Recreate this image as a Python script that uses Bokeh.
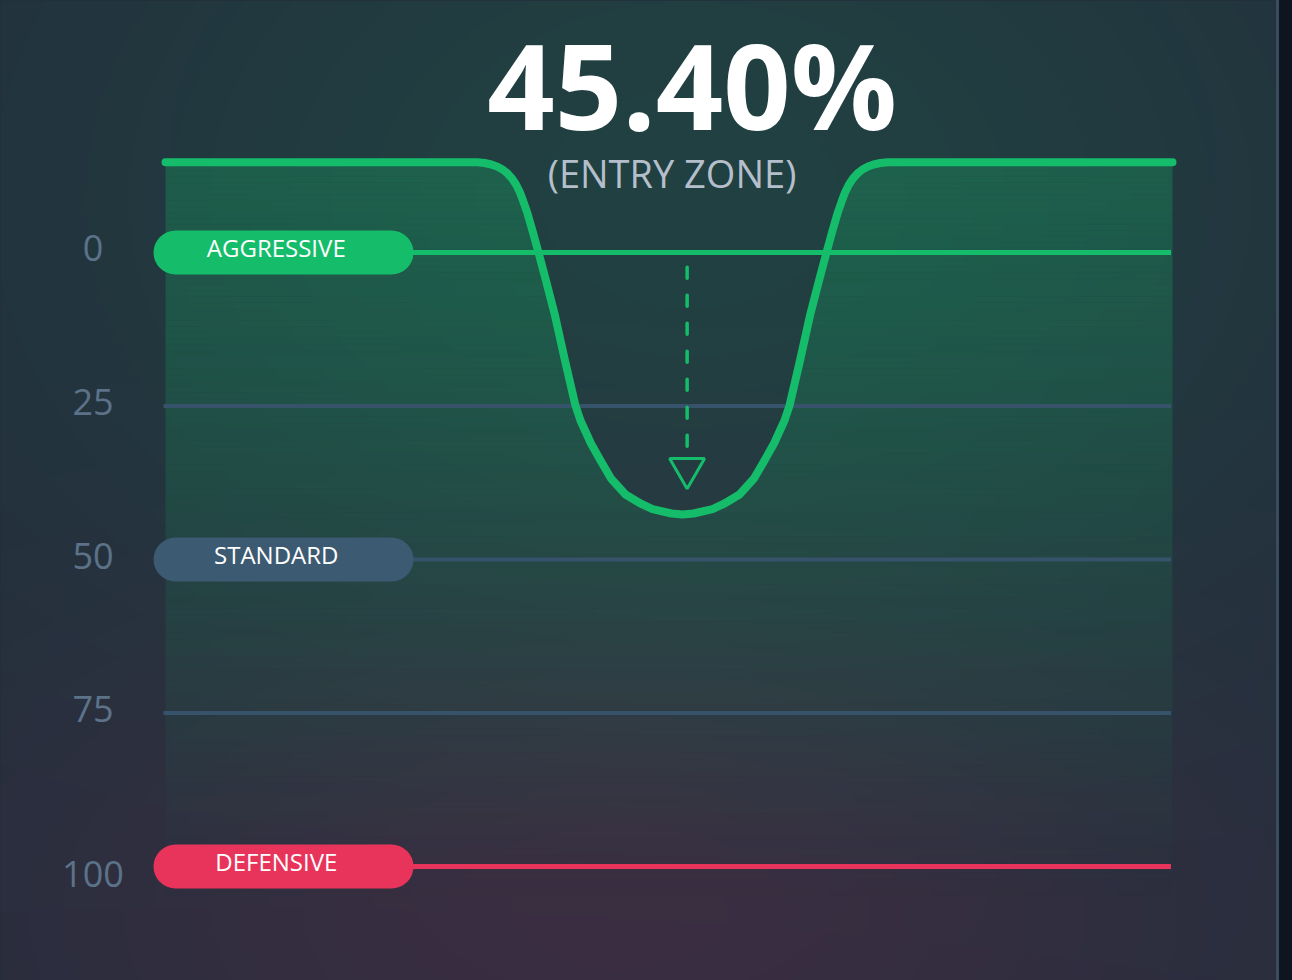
import numpy as np
from bokeh.plotting import figure
from bokeh.models import Range1d
from bokeh.core.properties import value
from bokeh.embed import file_html
from bokeh.resources import INLINE

# ---------------- data ----------------
headline = "45.40%"
subtitle = "(ENTRY ZONE)"
tick_values = [0, 25, 50, 75, 100]
tick_labels = ["0", "25", "50", "75", "100"]
zone_levels = [0, 50, 100]
zone_names = ["AGGRESSIVE", "STANDARD", "DEFENSIVE"]
guide_levels = [25, 75]
curve_x = [0.0,
           30.98, 31.68, 32.37, 32.92, 33.47, 33.96, 34.41, 34.81, 35.20, 35.50, 35.95, 36.44, 37.04,
           37.78, 38.63, 39.67, 40.71, 41.21, 42.25, 43.20, 44.24, 45.68, 47.17, 48.36, 50.25, 51.34,
           52.43, 54.32, 55.51, 57.00, 58.44, 59.48, 60.43, 61.47, 61.97, 63.01, 64.05, 64.90, 65.64,
           66.24, 66.73, 67.18, 67.48, 67.87, 68.27, 68.72, 69.21, 69.76, 70.31, 71.00, 71.70,
           100.0]
curve_y = [-14.71,
           -14.71, -14.58, -14.33, -14.01, -13.52, -12.87, -12.05, -11.07, -9.77, -8.47, -6.35, -3.58, 0.0,
           4.56, 9.93, 17.59, 24.92, 27.36, 31.11, 33.88, 36.81, 39.41, 40.88, 41.78, 42.51, 42.67,
           42.51, 41.78, 40.88, 39.41, 36.81, 33.88, 31.11, 27.36, 24.92, 17.59, 9.93, 4.56, 0.0,
           -3.58, -6.35, -8.47, -9.77, -11.07, -12.05, -12.87, -13.52, -14.01, -14.33, -14.58, -14.71,
           -14.71]
marker_x = 51.8
marker_stem = [2.4, 32.1]
marker_head = 35.2

# ---------------- styles / layout ----------------
GREEN = "#15bd6b"
SLATE_PILL = "#3c5a72"
SLATE_LINE = "#37536b"
RED = "#e8345a"
zone_fill = [GREEN, SLATE_PILL, RED]
zone_line = [GREEN, SLATE_LINE, RED]
zone_width = [5, 4, 5]
FONT = value("Open Sans")

W, H = 1276, 980
SX, SY = 10.07, 6.14          # pixels per data unit
OX, OY = 165, 252             # pixel position of data (0, 0)
X0, X1 = -OX / SX, (W - OX) / SX
Y_TOP, Y_BOT = -OY / SY, (H - OY) / SY
LINE_X0, LINE_X1 = -0.2, 99.85
PILL_X, PILL_TEXT_X = 11.72, 11.0
TICK_X = -7.2
tick_dy = [-5, -4, -4, -4, 7.5]

p = figure(width=W, height=H, x_range=Range1d(X0, X1), y_range=Range1d(Y_BOT, Y_TOP),
           x_axis_type=None, y_axis_type=None, toolbar_location=None, output_backend="svg",
           min_border=0, background_fill_color="#232f3d", border_fill_color="#232f3d",
           outline_line_color=None)

# background glow (decorative raster)
nx, ny = W // 4, H // 4
px = (np.arange(nx) + 0.5) * W / nx
py = H - (np.arange(ny) + 0.5) * H / ny
PX, PY = np.meshgrid(px, py)
g = np.exp(-((PX - 690) / 650) ** 2 - ((PY - 200) / 480) ** 2)
r = np.exp(-((PX - 620) / 600) ** 2 - ((PY - 910) / 320) ** 2)
img = np.empty((ny, nx), dtype=np.uint32)
view = img.view(dtype=np.uint8).reshape((ny, nx, 4))
view[..., 0] = np.clip(35 - 2 * g + 24 * r, 0, 255).astype(np.uint8)
view[..., 1] = np.clip(46 + 19 * g - 2 * r, 0, 255).astype(np.uint8)
view[..., 2] = np.clip(60 + 6 * g + 5 * r, 0, 255).astype(np.uint8)
view[..., 3] = 255
p.extra_y_ranges = {"bg": Range1d(0, 1)}
p.image_rgba(image=[img], x=X0, y=0, dw=X1 - X0, dh=1, y_range_name="bg")


def band(xs, ys, a, b):
    """Part of the area under the curve lying between levels a and b."""
    ox, oy = [xs[0]], [ys[0]]
    for i in range(1, len(xs)):
        x0, y0, x1, y1 = xs[i - 1], ys[i - 1], xs[i], ys[i]
        cuts = []
        for lv in (a, b):
            if (y0 - lv) * (y1 - lv) < 0:
                t = (lv - y0) / (y1 - y0)
                cuts.append((t, x0 + t * (x1 - x0), lv))
        for _, cx, cv in sorted(cuts):
            ox.append(cx)
            oy.append(cv)
        ox.append(x1)
        oy.append(y1)
    return np.array(ox), np.clip(np.array(oy), a, b)


# gradient fill under the curve (non-overlapping horizontal bands)
TOP, FADE = curve_y[0], 106.0
rows = np.arange(158, 944, 6)
for ra, rb in zip(rows[:-1], rows[1:]):
    a, b = (ra - OY) / SY, (rb - OY) / SY
    mid = 0.5 * (a + b)
    alpha = 0.28 * float(np.clip((FADE - mid) / (FADE - TOP), 0, 1))
    if alpha <= 0:
        continue
    bx, by = band(curve_x, curve_y, a, b)
    p.varea(x=bx, y1=by, y2=np.full(len(by), b), fill_color=GREEN, fill_alpha=alpha)

# level lines
p.segment(x0=[LINE_X0] * 2, y0=guide_levels, x1=[LINE_X1] * 2, y1=guide_levels,
          line_color=SLATE_LINE, line_width=4)
p.segment(x0=[LINE_X0] * 3, y0=zone_levels, x1=[LINE_X1] * 3, y1=zone_levels,
          line_color=zone_line, line_width=zone_width)

# curve
p.line(curve_x, curve_y, line_color=GREEN, line_width=8, line_cap="round", line_join="round")

# dashed pointer + triangle
p.segment(x0=[marker_x], y0=[marker_stem[0]], x1=[marker_x], y1=[marker_stem[1]],
          line_color=GREEN, line_width=3.5, line_dash="11 17", line_cap="round")
p.scatter(x=[marker_x], y=[marker_head], marker="inverted_triangle", size=35,
          fill_alpha=0, line_color=GREEN, line_width=3)

# zone pills
p.rect(x=[PILL_X] * 3, y=zone_levels, width=260, height=44, width_units="screen",
       height_units="screen", fill_color=zone_fill, line_color=None, border_radius=22)
p.text(x=[PILL_TEXT_X] * 3, y=zone_levels, text=zone_names, text_font=FONT,
       text_font_size="24px", text_color="#ffffff", text_align="center",
       text_baseline="middle", y_offset=-5.5)

# tick labels
p.text(x=[TICK_X] * 5, y=tick_values, text=tick_labels, text_font=FONT,
       text_font_size="36px", text_color="#5c7289", text_align="center",
       text_baseline="middle", y_offset=tick_dy)

# headline
p.text(x=[52.3], y=[-27.4], text=[headline], text_font=FONT, text_font_size="118px",
       text_font_style="bold", text_color="#ffffff", text_align="center",
       text_baseline="middle")
p.text(x=[50.3], y=[-13.0], text=[subtitle], text_font=FONT, text_font_size="38px",
       text_color="#b4bfcb", text_align="center", text_baseline="middle")

template = """{% block preamble %}<style>
html{background:linear-gradient(90deg,#232f3d 0px,#232f3d 1276px,#3b4c5f 1276px,#3b4c5f 1279px,#0f151e 1279px);overflow:hidden;}
body{background:transparent;overflow:hidden;}
</style>{% endblock %}"""

open("out.html", "w").write(file_html(p, INLINE, template=template))
